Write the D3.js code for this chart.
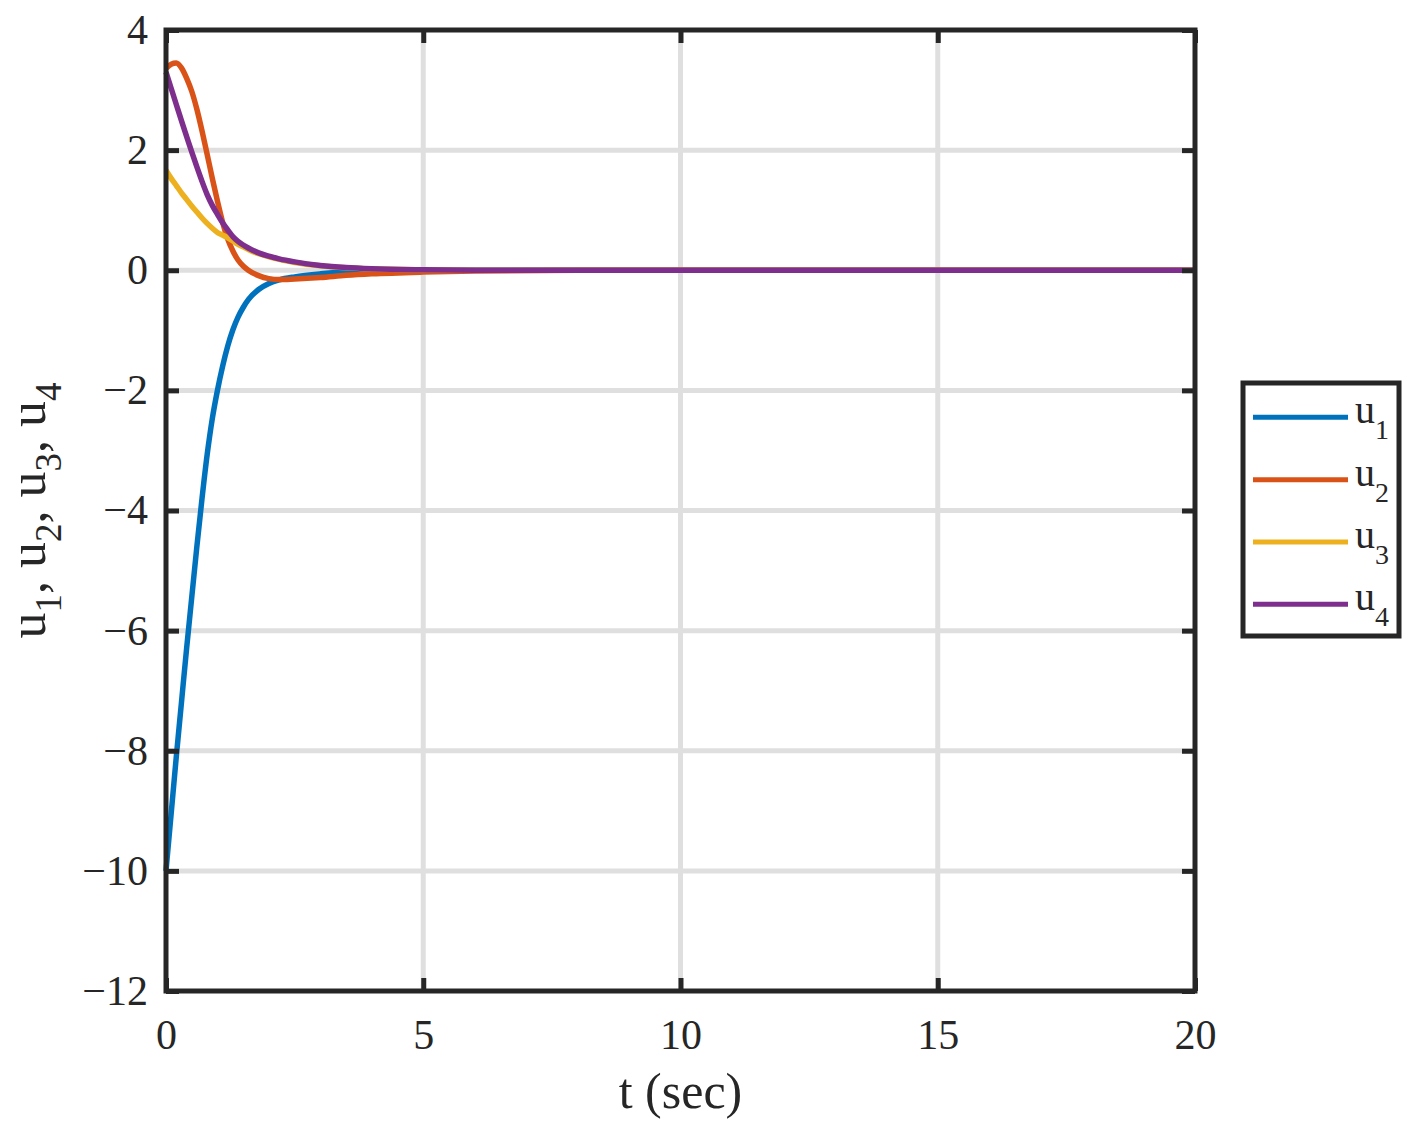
<!DOCTYPE html>
<html>
<head>
<meta charset="utf-8">
<script src="https://cdn.jsdelivr.net/npm/d3@7"></script>
<style>
  html, body { margin: 0; padding: 0; background: #ffffff; }
  svg { display: block; }
  text { font-family: "Liberation Serif", "DejaVu Serif", serif; fill: #262626; }
</style>
</head>
<body>
<svg id="chart" width="1417" height="1132"></svg>
<script>
// ---- data ----
const time = [0, 0.1, 0.2, 0.3, 0.4, 0.5, 0.6, 0.7, 0.8, 0.9, 1.0, 1.1, 1.2, 1.3, 1.4, 1.5, 1.6, 1.8, 2.0, 2.2, 2.5, 3.0, 3.5, 4.0, 5.0, 6.0, 8.0, 10, 15, 20];
const u1 = [-10, -9.05, -8.1, -7.2, -6.3, -5.45, -4.6, -3.8, -3.07, -2.47, -2.0, -1.6, -1.26, -0.99, -0.78, -0.62, -0.49, -0.32, -0.22, -0.16, -0.11, -0.06, -0.03, -0.015, -0.005, 0, 0, 0, 0, 0];
const u2 = [3.36, 3.43, 3.45, 3.37, 3.2, 2.98, 2.68, 2.32, 1.93, 1.53, 1.15, 0.8, 0.52, 0.32, 0.17, 0.07, 0.0, -0.09, -0.14, -0.155, -0.145, -0.12, -0.085, -0.06, -0.03, -0.012, -0.002, 0, 0, 0];
const u3 = [1.665, 1.53, 1.41, 1.29, 1.18, 1.07, 0.97, 0.87, 0.78, 0.70, 0.63, 0.585, 0.54, 0.49, 0.43, 0.39, 0.345, 0.275, 0.225, 0.18, 0.13, 0.075, 0.043, 0.023, 0.007, 0.002, 0, 0, 0, 0];
const u4 = [3.30, 3.03, 2.76, 2.49, 2.23, 1.97, 1.72, 1.48, 1.26, 1.08, 0.93, 0.79, 0.67, 0.56, 0.48, 0.42, 0.37, 0.29, 0.235, 0.19, 0.14, 0.08, 0.045, 0.025, 0.008, 0.002, 0, 0, 0, 0];
const seriesNames = ["u", "u", "u", "u"];
const seriesSubs = ["1", "2", "3", "4"];
const seriesColors = ["#0072BD", "#D95319", "#EDB120", "#7E2F8E"];
const xTicks = [0, 5, 10, 15, 20];
const yTicks = [-12, -10, -8, -6, -4, -2, 0, 2, 4];
const xLabel = "t (sec)";

const seriesValues = [u1, u2, u3, u4];

// ---- layout ----
const svg = d3.select("#chart");
const pLeft = 166, pRight = 1195, pTop = 30, pBottom = 991;
const ink = "#262626";
const serif = '"Liberation Serif", "DejaVu Serif", serif';
const x = d3.scaleLinear().domain([0, 20]).range([pLeft, pRight]);
const y = d3.scaleLinear().domain([-12, 4]).range([pBottom, pTop]);

svg.append("rect").attr("width", 1417).attr("height", 1132).attr("fill", "#ffffff");

// grid
const grid = svg.append("g").attr("stroke", "#dfdfdf").attr("stroke-width", 5);
grid.selectAll("line.v").data(xTicks.filter(t => t > 0 && t < 20)).join("line")
  .attr("class", "v")
  .attr("x1", d => x(d)).attr("x2", d => x(d)).attr("y1", pTop).attr("y2", pBottom);
grid.selectAll("line.h").data(yTicks.filter(t => t > -12 && t < 4)).join("line")
  .attr("class", "h")
  .attr("y1", d => y(d)).attr("y2", d => y(d)).attr("x1", pLeft).attr("x2", pRight);

// lines
const line = d3.line()
  .x(d => x(d[0])).y(d => y(d[1]))
  .curve(d3.curveMonotoneX);
seriesValues.forEach((vals, i) => {
  svg.append("path")
    .datum(time.map((t, k) => [t, vals[k]]))
    .attr("fill", "none")
    .attr("stroke", seriesColors[i])
    .attr("stroke-width", 5.5)
    .attr("stroke-linejoin", "round")
    .attr("d", line);
});

// axes
const tickLen = 13;
function styleAxis(g, fs) {
  g.attr("font-family", serif).attr("font-size", fs);
  g.select(".domain").remove();
  g.selectAll(".tick line").attr("stroke", ink).attr("stroke-width", 5);
  g.selectAll(".tick text").attr("fill", ink)
    .attr("font-family", serif).attr("font-size", fs)
    .style("font-size", fs + "px").style("font-family", serif);
}
svg.append("g").attr("transform", `translate(0,${pBottom})`)
  .call(d3.axisBottom(x).tickValues(xTicks).tickSize(-tickLen).tickPadding(28))
  .call(g => styleAxis(g, 42));
svg.append("g").attr("transform", `translate(0,${pTop})`)
  .call(d3.axisTop(x).tickValues(xTicks).tickSize(-tickLen).tickFormat(""))
  .call(g => styleAxis(g, 42));
svg.append("g").attr("transform", `translate(${pLeft},0)`)
  .call(d3.axisLeft(y).tickValues(yTicks).tickSize(-tickLen).tickPadding(18))
  .call(g => styleAxis(g, 42));
svg.append("g").attr("transform", `translate(${pRight},0)`)
  .call(d3.axisRight(y).tickValues(yTicks).tickSize(-tickLen).tickFormat(""))
  .call(g => styleAxis(g, 42));

// frame
svg.append("rect")
  .attr("x", pLeft).attr("y", pTop).attr("width", pRight - pLeft).attr("height", pBottom - pTop)
  .attr("fill", "none").attr("stroke", ink).attr("stroke-width", 5);

// x label
svg.append("text")
  .attr("x", (pLeft + pRight) / 2).attr("y", 1108)
  .attr("text-anchor", "middle")
  .style("font-family", serif)
  .style("font-size", "50px")
  .text(xLabel);

// y label with subscripts
const yl = svg.append("text")
  .attr("transform", `translate(45,${(pTop + pBottom) / 2}) rotate(-90)`)
  .attr("text-anchor", "middle")
  .style("font-family", serif)
  .style("font-size", "52px");
seriesNames.forEach((n, i) => {
  yl.append("tspan").attr("dy", i === 0 ? 0 : -16).text((i === 0 ? "" : ", ") + n);
  yl.append("tspan").attr("dy", 16).style("font-size", "37px").text(seriesSubs[i]);
});

// legend
const lg = svg.append("g");
lg.append("rect").attr("x", 1243).attr("y", 383).attr("width", 156).attr("height", 253)
  .attr("fill", "#ffffff").attr("stroke", ink).attr("stroke-width", 5);
const legendY = d3.scalePoint().domain(d3.range(seriesNames.length)).range([417.3, 604.3]);
seriesNames.forEach((n, i) => {
  const yy = legendY(i);
  lg.append("line").attr("x1", 1253).attr("x2", 1348).attr("y1", yy).attr("y2", yy)
    .attr("stroke", seriesColors[i]).attr("stroke-width", 5);
  const t = lg.append("text").attr("x", 1355).attr("y", yy + 6)
    .style("font-family", serif).style("font-size", "40px");
  t.append("tspan").text(n);
  t.append("tspan").attr("dy", 16).style("font-size", "28px").text(seriesSubs[i]);
});
</script>
</body>
</html>
